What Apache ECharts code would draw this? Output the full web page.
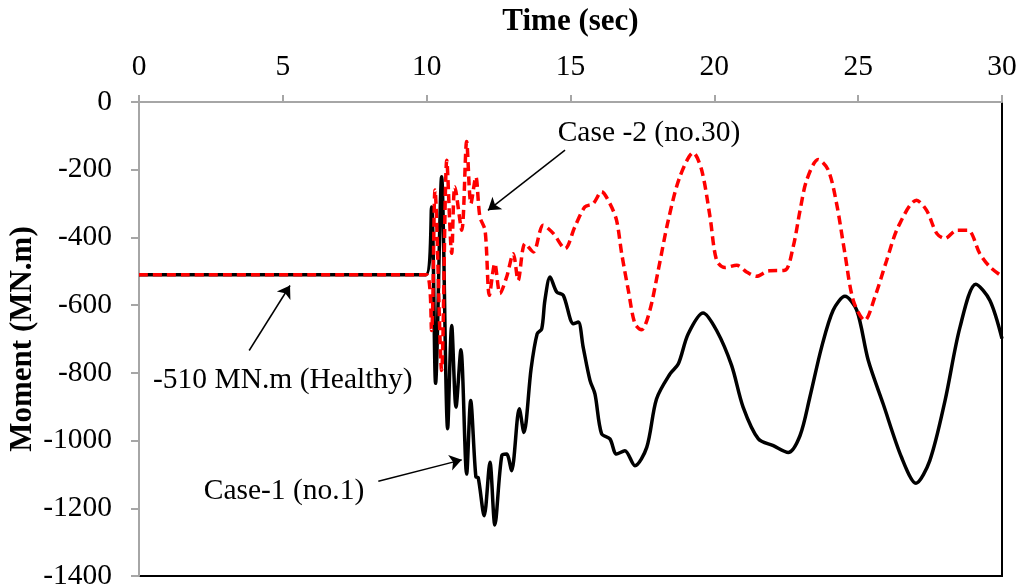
<!DOCTYPE html>
<html>
<head>
<meta charset="utf-8">
<script src="https://cdn.jsdelivr.net/npm/echarts@6/dist/echarts.min.js"></script>
<style>html,body{margin:0;padding:0;background:#fff}#c{width:1024px;height:587px}</style>
</head>
<body>
<div id="c"></div>
<script>
// Case-1 (no.1) — black solid
var case1Time = [0, 9.98, 10.17, 10.31, 10.52, 10.73, 10.87, 11.02, 11.19, 11.39, 11.53, 11.71, 11.79, 12.00, 12.20, 12.37, 12.61, 12.78, 12.95, 13.22, 13.38, 13.63, 13.84, 14.00, 14.11, 14.29, 14.52, 14.75, 15.10, 15.27, 15.44, 15.68, 15.85, 16.08, 16.37, 16.60, 16.89, 17.24, 17.65, 17.99, 18.46, 18.75, 19.09, 19.61, 20.08, 20.60, 21.00, 21.53, 22.05, 22.57, 22.98, 23.32, 23.73, 24.13, 24.54, 24.95, 25.35, 25.87, 26.51, 27.01, 27.49, 28.02, 28.54, 29.09, 29.58, 30.0];
var case1Moment = [-510, -510, -310, -831, -221, -965, -660, -901, -732, -1099, -882, -1107, -1109, -1222, -1064, -1249, -1045, -1040, -1089, -906, -976, -788, -685, -670, -586, -517, -561, -571, -655, -650, -724, -823, -862, -980, -995, -1040, -1030, -1074, -1020, -877, -803, -773, -685, -623, -675, -778, -901, -995, -1015, -1035, -985, -872, -724, -615, -574, -615, -763, -892, -1050, -1126, -1059, -882, -665, -538, -586, -699];

// Case-2 (no.30) — red dashed
var case2Time = [0, 10.0, 10.17, 10.29, 10.52, 10.70, 10.87, 10.98, 11.22, 11.39, 11.54, 11.71, 11.85, 12.03, 12.18, 12.37, 12.55, 12.78, 13.01, 13.18, 13.42, 13.71, 14.05, 14.40, 14.81, 15.15, 15.50, 15.79, 16.08, 16.37, 16.60, 16.78, 17.01, 17.24, 17.47, 17.76, 18.05, 18.40, 18.80, 19.27, 19.56, 19.85, 20.08, 20.37, 20.78, 21.12, 21.47, 21.87, 22.45, 22.74, 22.98, 23.21, 23.61, 23.96, 24.25, 24.54, 24.83, 25.23, 25.58, 25.99, 26.39, 27.03, 27.38, 27.73, 28.02, 28.42, 28.82, 29.23, 29.58, 30.0];
var case2Moment = [-510, -510, -675, -260, -793, -172, -447, -250, -379, -117, -300, -221, -339, -379, -571, -477, -566, -517, -448, -527, -418, -443, -364, -388, -433, -369, -310, -300, -265, -300, -349, -448, -556, -655, -673, -615, -497, -349, -221, -150, -201, -339, -468, -489, -482, -502, -515, -499, -497, -428, -320, -231, -170, -201, -300, -448, -586, -645, -576, -468, -369, -290, -320, -388, -403, -379, -379, -448, -487, -515];

var xTicks = [0, 5, 10, 15, 20, 25, 30];
var yTicks = [0, -200, -400, -600, -800, -1000, -1200, -1400];

var annotationText = ['Case -2 (no.30)', '-510 MN.m (Healthy)', 'Case-1 (no.1)'];
var annotationAt = [[17.73, -92], [5.0, -822], [5.04, -1150]];
var arrowFrom = [[14.81, -142], [3.83, -734], [8.32, -1120]];
var arrowTo = [[12.13, -320], [5.25, -542], [11.22, -1057]];

function pairs(t, v) { return t.map(function (x, i) { return [x, v[i]]; }); }

var font = 'Liberation Serif, Times New Roman, serif';
var chart = echarts.init(document.getElementById('c'), null, { renderer: 'canvas' });

var arrowData = arrowFrom.map(function (f, i) {
  return [{ coord: f, symbol: 'none' }, { coord: arrowTo[i], symbol: 'arrow' }];
});
var textData = annotationText.map(function (s, i) {
  return { name: s, coord: annotationAt[i] };
});

chart.setOption({
  animation: false,
  backgroundColor: '#fff',
  grid: { left: 139, right: 22, top: 102, bottom: 11, containLabel: false, outerBoundsMode: 'none', show: true, borderColor: '#000', borderWidth: 2, backgroundColor: 'transparent' },
  xAxis: {
    type: 'value', position: 'top', min: xTicks[0], max: xTicks[xTicks.length - 1], interval: 5,
    name: 'Time (sec)', nameLocation: 'middle', nameGap: 65,
    nameTextStyle: { fontFamily: font, fontSize: 31, fontWeight: 'bold', color: '#000' },
    axisLine: { show: true, onZero: false, lineStyle: { color: '#a6a6a6', width: 2 } },
    axisTick: { show: true, inside: false, length: 7, lineStyle: { color: '#a6a6a6', width: 2 } },
    axisLabel: { fontFamily: font, fontSize: 29.5, color: '#000', margin: 20, formatter: function (v) { return String(v); } },
    splitLine: { show: false }
  },
  yAxis: {
    type: 'value', min: yTicks[yTicks.length - 1], max: yTicks[0], interval: 200,
    name: 'Moment (MN.m)', nameLocation: 'middle', nameGap: 101, nameRotate: 90, nameMoveOverlap: false,
    nameTextStyle: { fontFamily: font, fontSize: 31, fontWeight: 'bold', color: '#000' },
    axisLine: { show: true, onZero: false, lineStyle: { color: '#a6a6a6', width: 2 } },
    axisTick: { show: true, inside: false, length: 8, lineStyle: { color: '#a6a6a6', width: 2 } },
    axisLabel: { fontFamily: font, fontSize: 29.5, color: '#000', margin: 27, formatter: function (v) { return String(v); } },
    splitLine: { show: false }
  },
  series: [
    {
      name: 'Case-1 (no.1)', type: 'line', data: pairs(case1Time, case1Moment),
      showSymbol: false, smooth: 0.3,
      lineStyle: { color: '#000', width: 3.5 },
      markLine: {
        silent: true, symbolSize: 12,
        lineStyle: { color: '#000', width: 1.5, type: 'solid' },
        label: { show: false },
        data: arrowData
      },
      markPoint: {
        silent: true, symbol: 'circle', symbolSize: 1,
        itemStyle: { color: 'rgba(0,0,0,0)' },
        label: { show: true, position: 'inside', formatter: '{b}', fontFamily: font, fontSize: 29.5, color: '#000' },
        data: textData
      }
    },
    {
      name: 'Case -2 (no.30)', type: 'line', data: pairs(case2Time, case2Moment),
      showSymbol: false, smooth: 0.3,
      lineStyle: { color: '#ff0000', width: 3.5, type: [9, 5] }
    }
  ]
});
</script>
</body>
</html>
